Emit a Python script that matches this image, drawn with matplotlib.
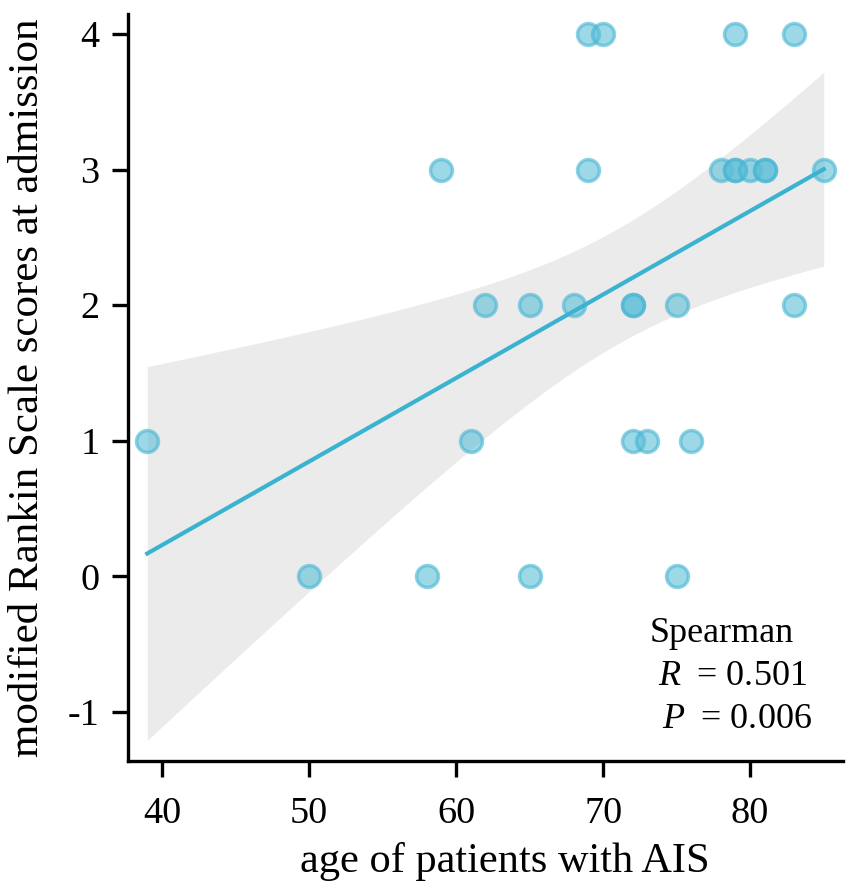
import numpy as np
from matplotlib import pyplot as plt

# age of patients vs mRS at admission
ages_4 = [69, 70, 79, 83]
ages_3 = [59, 69, 78, 79, 79, 80, 81, 81, 85]
ages_2 = [62, 65, 68, 72, 72, 75, 83]
ages_1 = [39, 61, 72, 73, 76]
ages_0 = [50, 58, 65, 75]
scores = [4, 3, 2, 1, 0]

x_ticks = [40, 50, 60, 70, 80]
y_ticks = [-1, 0, 1, 2, 3, 4]
stat_lines = ['Spearman', '$\\it{R}$ \u2009= 0.501', '$\\it{P}$ \u2009= 0.006']

T_975_DF27 = 2.0518  # two-sided 95% t quantile, df = n - 2


def main():
    groups = [ages_4, ages_3, ages_2, ages_1, ages_0]
    x = np.concatenate([np.array(g, float) for g in groups])
    y = np.concatenate([np.full(len(g), s, float) for g, s in zip(groups, scores)])

    plt.rcParams['font.family'] = ['Liberation Serif', 'DejaVu Serif']
    plt.rcParams['mathtext.fontset'] = 'custom'
    plt.rcParams['mathtext.it'] = 'Liberation Serif:italic'
    plt.rcParams['mathtext.rm'] = 'Liberation Serif'

    fig = plt.figure(figsize=(8.51, 8.89), dpi=100)
    ax = fig.add_axes([0.1504, 0.1440, 0.840, 0.8403])

    # linear fit with analytic 95% CI
    n = len(x)
    mx, my = x.mean(), y.mean()
    sxx = ((x - mx) ** 2).sum()
    slope = ((x - mx) * (y - my)).sum() / sxx
    icpt = my - slope * mx
    resid = y - (icpt + slope * x)
    s = np.sqrt((resid ** 2).sum() / (n - 2))
    xs = np.linspace(x.min(), x.max(), 200)
    fit = icpt + slope * xs
    se = s * np.sqrt(1.0 / n + (xs - mx) ** 2 / sxx)
    ax.fill_between(xs, fit - T_975_DF27 * se, fit + T_975_DF27 * se,
                    color='#ebebeb', lw=0, zorder=1)

    ax.scatter(x, y, s=250, facecolor='#5cbfd8', edgecolor='#45b5d3',
               linewidth=2.5, alpha=0.6, zorder=2)
    ax.plot(xs, fit, color='#3ab3d1', lw=3.0, zorder=3)

    ax.set_xlim(37.69, 86.3)
    ax.set_ylim(-1.361, 4.147)
    ax.set_xticks(x_ticks)
    ax.set_yticks(y_ticks)
    ax.set_yticklabels([str(t) for t in y_ticks])
    for side in ['top', 'right']:
        ax.spines[side].set_visible(False)
    for side in ['left', 'bottom']:
        ax.spines[side].set_linewidth(2.4)
    ax.tick_params(axis='both', which='major', labelsize=27.5, width=2.4,
                   length=11.5, direction='out')
    ax.tick_params(axis='x', pad=14)
    ax.tick_params(axis='y', pad=9)

    ax.set_xlabel('age of patients with AIS', fontsize=30.5)
    ax.set_ylabel('modified Rankin Scale scores at admission', fontsize=31)
    ax.xaxis.set_label_coords(0.527, -0.108)
    ax.yaxis.set_label_coords(-0.113, 0.5)

    ax.text(0.730, 0.171, stat_lines[0], transform=ax.transAxes, fontsize=26,
            ha='left', va='center')
    ax.text(0.741, 0.113, stat_lines[1], transform=ax.transAxes, fontsize=26,
            ha='left', va='center')
    ax.text(0.747, 0.055, stat_lines[2], transform=ax.transAxes, fontsize=26,
            ha='left', va='center')

    fig.savefig('out.png', dpi=100)


main()
